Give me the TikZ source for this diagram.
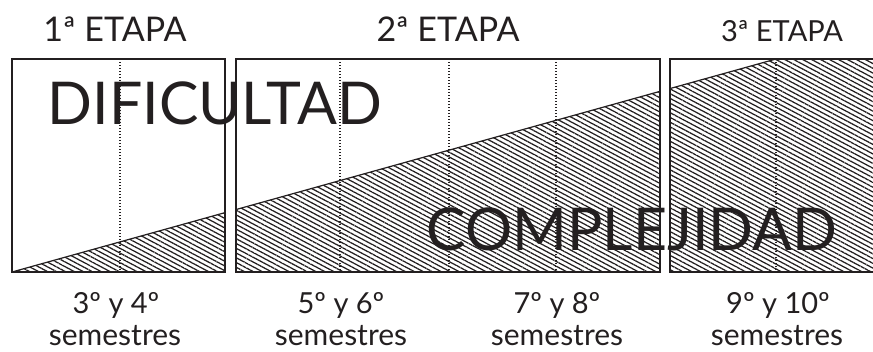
\documentclass[tikz,border=0pt]{standalone}
\usepackage{fontspec}
\setmainfont{Lato}
\usepackage{tikz}
\usetikzlibrary{patterns.meta,positioning}
\usepackage{xcolor}
\definecolor{ink}{HTML}{231F20}

\begin{document}
\begin{tikzpicture}[x=1pt,y=-1pt,
  box/.style={draw=ink,line width=1.8pt},
  sep/.style={ink,line width=1.2pt,dash pattern=on 1.2pt off 1.8pt},
  hatch/.style={pattern={Lines[angle=-28,distance=4.2pt,line width=1.25pt]},pattern color=ink},
  slope/.style={ink,line width=1.2pt},
  etapa/.style={anchor=base,inner sep=0pt,text=ink,font=\fontsize{34}{36}\selectfont},
  etapasm/.style={etapa,font=\fontsize{29}{32}\selectfont},
  big/.style={anchor=base,inner sep=0pt,text=ink,font=\fontsize{59}{62}\selectfont},
  sem/.style={anchor=base,inner sep=0pt,text=ink,font=\fontsize{29}{30}\selectfont}]
\useasboundingbox (0,0) rectangle (873,351);

% --- slope of the hatched area ---
\coordinate (s0) at (12,272);
\coordinate (s1) at (776,59);

% --- hatching, cut by each box ---
\foreach \l/\r in {12/225,236/660,670/873}{
  \begin{scope}
    \clip (\l,59) rectangle (\r,272);
    \fill[hatch] (s0) -- (s1) -- (873,59) -- (873,272) -- cycle;
    \draw[slope] (s0) -- (s1);
  \end{scope}
}

% --- semester dividers ---
\foreach \x in {120,340,449,556,776}
  \draw[sep] (\x,59) -- (\x,272);

% --- boxes ---
\draw[box] (12,59) rectangle (225,272);
\draw[box] (236,59) rectangle (660,272);
\draw[box] (873,59) -- (670,59) -- (670,272) -- (873,272);

% --- stages ---
\node[etapa] (e1) at (115,41) {1ª ETAPA};
\node[etapa] (e2) at (448,41) {2ª ETAPA};
\node[etapasm] (e3) at (782,41) {3ª ETAPA};

% --- big words ---
\node[big] (dif) at (215,124) {DIFICULTAD};
\node[big] (com) at (632,250) {COMPLEJIDAD};

% --- semesters ---
\node[sem] (t1) at (116,313) {3º y 4º};
\node[sem] (t2) at (341,313) {5º y 6º};
\node[sem] (t3) at (557,313) {7º y 8º};
\node[sem] (t4) at (778,313) {9º y 10º};
\foreach \x/\n in {115/1,341/2,557/3,777/4}
  \node[sem,font=\fontsize{30}{30}\selectfont] (s\n) at (\x,345) {semestres};

\end{tikzpicture}
\end{document}
